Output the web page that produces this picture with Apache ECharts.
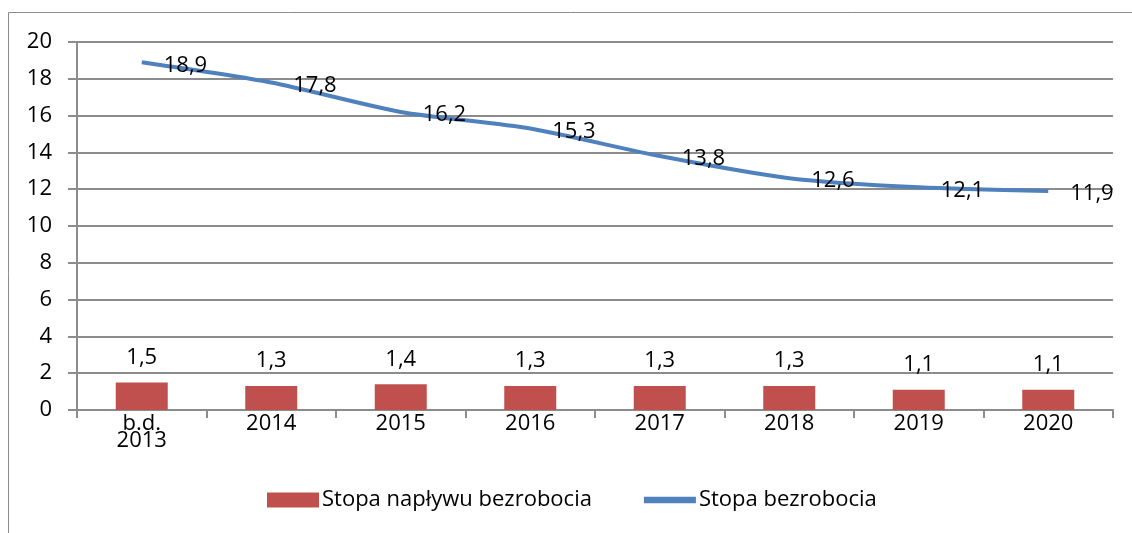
<!DOCTYPE html>
<html><head><meta charset="utf-8">
<script src="https://cdn.jsdelivr.net/npm/echarts@6/dist/echarts.min.js"></script>
<style>html,body{margin:0;padding:0;background:#fff}#c{width:1132px;height:533px}</style>
</head><body><div id="c"></div>
<script>
const categories = ['2013','2014','2015','2016','2017','2018','2019','2020'];
const xLabels = ['b.d.\n2013','2014','2015','2016','2017','2018','2019','2020'];
const inflowRate = [1.5,1.3,1.4,1.3,1.3,1.3,1.1,1.1];
const unemploymentRate = [18.9,17.8,16.2,15.3,13.8,12.6,12.1,11.9];
const yTicks = [0,2,4,6,8,10,12,14,16,18,20];
const seriesNames = ['Stopa napływu bezrobocia','Stopa bezrobocia'];

const FONT = '"Open Sans", "Noto Sans", sans-serif';
const FS = 22;
const fmt = v => String(v).replace('.', ',');
const chart = echarts.init(document.getElementById('c'));
chart.setOption({
  animation: false,
  textStyle: {fontFamily: FONT},
  graphic: [{type:'rect', shape:{x:8.5,y:12.5,width:1300,height:700}, style:{fill:'none', stroke:'#8c8c8c', lineWidth:1}, silent:true}],
  grid: {left: 77, right: 19, top: 42, bottom: 123},
  legend: {
    bottom: 17, left: 262, itemGap: 52, itemWidth: 52, itemHeight: 15,
    textStyle: {fontSize: FS, color: '#000', fontFamily: FONT, padding: [0,0,0,-2]},
    data: [
      {name: seriesNames[0], icon: 'rect'},
      {name: seriesNames[1], icon: 'path://M6,5 L46,5 L46,10 L6,10 Z', itemStyle:{color:'#4F81BD'}}
    ]
  },
  xAxis: {
    type: 'category', data: categories,
    axisLine: {lineStyle: {color: '#8c8c8c', width: 2}},
    axisTick: {show: true, length: 8, lineStyle: {color: '#8c8c8c', width: 2}},
    axisLabel: {color: '#000', fontSize: FS, margin: 5, lineHeight: 17,
      formatter: (v, i) => xLabels[i]}
  },
  yAxis: {
    type: 'value', min: 0, max: 20, interval: 2,
    axisLine: {show: true, lineStyle: {color: '#8c8c8c', width: 2}},
    axisTick: {show: true, length: 9, lineStyle: {color: '#8c8c8c', width: 2}},
    splitLine: {lineStyle: {color: '#8c8c8c', width: 2}},
    axisLabel: {color: '#000', fontSize: FS, margin: 25,
      formatter: v => yTicks.includes(v) ? String(v) : ''}
  },
  series: [
    {
      name: seriesNames[0], type: 'bar', data: inflowRate, barWidth: 52,
      itemStyle: {color: '#C0504D'},
      label: {show: true, position: 'top', distance: 14, color: '#000', fontSize: FS, formatter: p => fmt(p.value)}
    },
    {
      name: seriesNames[1], type: 'line', data: unemploymentRate, smooth: 0.25,
      symbol: 'circle', symbolSize: 0.01, showSymbol: true,
      lineStyle: {color: '#4F81BD', width: 4}, itemStyle: {color: '#4F81BD'},
      label: {show: true, position: 'right', distance: 22, offset: [0, 3], color: '#000', fontSize: FS, formatter: p => fmt(p.value)}
    }
  ]
});
</script></body></html>
